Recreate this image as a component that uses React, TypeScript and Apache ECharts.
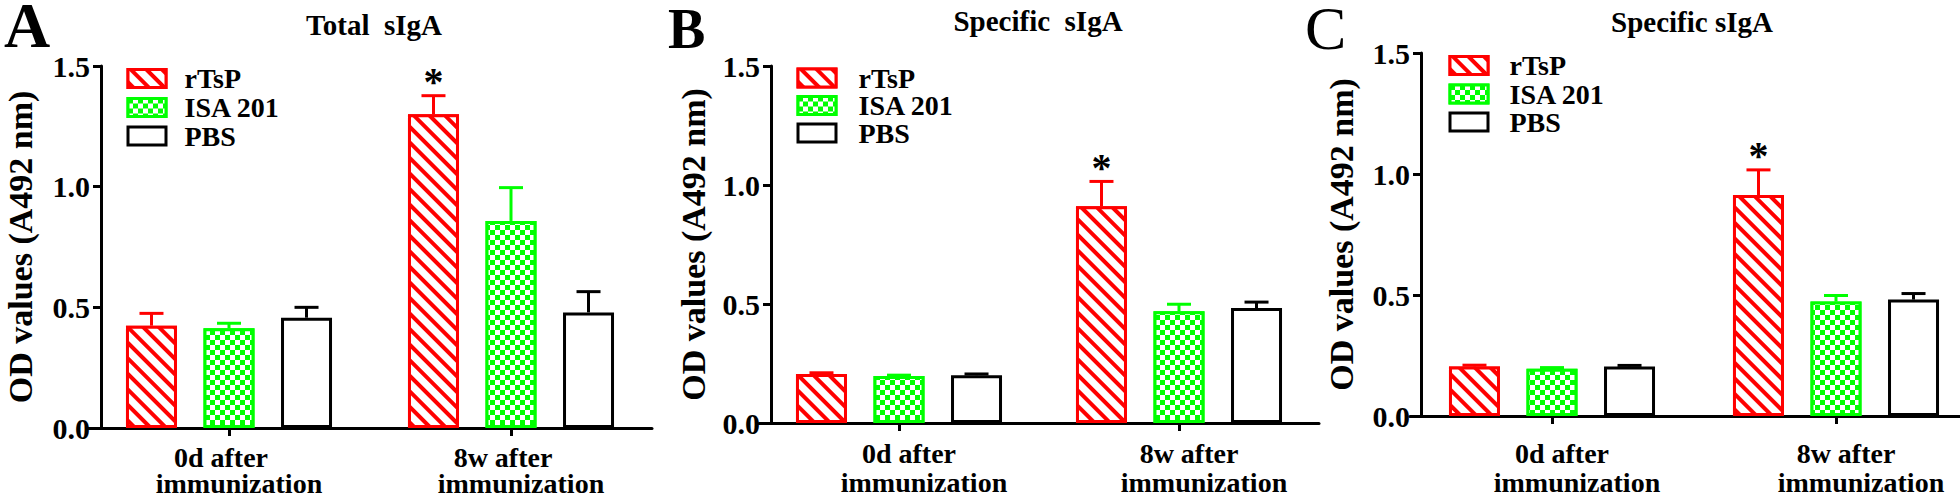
import React, { useEffect, useRef } from "react";
import * as echarts from "echarts";

// ---------- data ----------
const categories = ["0d after\nimmunization", "8w after\nimmunization"];
const groups = ["rTsP", "ISA 201", "PBS"];
const panelLetters = ["A", "B", "C"];
const panelTitles = ["Total  sIgA", "Specific  sIgA", "Specific sIgA"];
const yTicks = [0, 0.5, 1.0, 1.5];
const yAxisName = "OD values (A492 nm)";

// Panel A: total sIgA (mean, SD)
const totalRTsP = [0.424, 1.3];
const totalRTsPErr = [0.051, 0.077];
const totalISA = [0.413, 0.858];
const totalISAErr = [0.021, 0.138];
const totalPBS = [0.457, 0.479];
const totalPBSErr = [0.043, 0.086];

// Panel B: specific sIgA
const specBRTsP = [0.206, 0.911];
const specBRTsPErr = [0.005, 0.104];
const specBISA = [0.197, 0.47];
const specBISAErr = [0.004, 0.029];
const specBPBS = [0.201, 0.483];
const specBPBSErr = [0.005, 0.025];

// Panel C: specific sIgA
const specCRTsP = [0.205, 0.913];
const specCRTsPErr = [0.005, 0.104];
const specCISA = [0.195, 0.473];
const specCISAErr = [0.005, 0.025];
const specCPBS = [0.205, 0.481];
const specCPBSErr = [0.004, 0.025];

// significance star (only rTsP at 8w)
const rTsPStars = [false, true];

// ---------- styles / layout ----------
const FONT = "Liberation Serif";
const strokeColors = ["#ff0000", "#00ff00", "#000000"];
const fillColors = ["#ff0000", "#00ff00", "#ffffff"];
const BAR_W = 51;
const BAR_GAP = "52%";

const stripeDecal = {
  symbol: "rect",
  symbolSize: 1,
  symbolKeepAspect: false,
  color: "#ffffff",
  dashArrayX: [1, 0],
  dashArrayY: [7, 4],
  rotation: Math.PI / 4,
};
const checkerDecal = {
  symbol: "rect",
  symbolSize: 1,
  symbolKeepAspect: false,
  color: "#ffffff",
  dashArrayX: [
    [5, 5],
    [0, 5, 5, 0],
  ],
  dashArrayY: [5, 0],
  rotation: 0,
};
const decals: any[] = [stripeDecal, checkerDecal, null];

const panelData = [
  { vals: [totalRTsP, totalISA, totalPBS], errs: [totalRTsPErr, totalISAErr, totalPBSErr] },
  { vals: [specBRTsP, specBISA, specBPBS], errs: [specBRTsPErr, specBISAErr, specBPBSErr] },
  { vals: [specCRTsP, specCISA, specCPBS], errs: [specCRTsPErr, specCISAErr, specCPBSErr] },
];

const panels = [
  {
    left: 88, width: 564, top: 66, height: 362, yOffset: -13, nameGap: 63.5,
    labelMargin: 16, lineH: 26, dx1: -8, dx2: 10,
    legendLeft: 126.5, legendRows: [73.5, 102.5, 131], legendTextPad: 13.5,
    titleX: 374, titleY: 25, letterX: 4, letterY: 25, letterSize: 64, letterLH: 44, letterWeight: "bold",
  },
  {
    left: 759, width: 560, top: 66, height: 357, yOffset: -12, nameGap: 60.5,
    labelMargin: 15.5, lineH: 29, dx1: 10, dx2: 25,
    legendLeft: 796.5, legendRows: [73, 100.5, 128], legendTextPad: 17.5,
    titleX: 1038, titleY: 21, letterX: 668, letterY: 29, letterSize: 56, letterLH: 40, letterWeight: "bold",
  },
  {
    left: 1410, width: 568, top: 53, height: 363, yOffset: -11, nameGap: 62.5,
    labelMargin: 22.5, lineH: 29, dx1: 10, dx2: 25,
    legendLeft: 1448.5, legendRows: [60.5, 89, 117], legendTextPad: 16.5,
    titleX: 1692, titleY: 22, letterX: 1305, letterY: 28, letterSize: 62, letterLH: 44, letterWeight: "normal",
  },
];

const padFor = (dx: number) => (dx >= 0 ? [0, 0, 0, 2 * dx] : [0, -2 * dx, 0, 0]);

function buildOption() {
  const series: any[] = [];
  panelData.forEach((pd, p) => {
    groups.forEach((g, gi) => {
      const s: any = {
        type: "bar",
        name: g,
        xAxisIndex: p,
        yAxisIndex: p,
        data: pd.vals[gi],
        barWidth: BAR_W,
        barGap: BAR_GAP,
        silent: true,
        itemStyle: {
          color: fillColors[gi],
          borderColor: strokeColors[gi],
          borderWidth: 3,
        },
      };
      if (decals[gi]) s.itemStyle.decal = decals[gi];
      series.push(s);
    });
    const errData: any[] = [];
    groups.forEach((g, gi) => {
      categories.forEach((c, ci) => {
        const star = gi === 0 && rTsPStars[ci] ? 1 : 0;
        errData.push([ci, pd.vals[gi][ci], pd.errs[gi][ci], gi, star]);
      });
    });
    series.push({
      type: "custom",
      name: "err" + p,
      xAxisIndex: p,
      yAxisIndex: p,
      silent: true,
      z: 5,
      encode: { x: 0, y: 1 },
      data: errData,
      renderItem: (params: any, api: any) => {
        const ci = api.value(0);
        const v = api.value(1);
        const e = api.value(2);
        const gi = api.value(3);
        const star = api.value(4);
        const lay = api.barLayout({ count: 3, barWidth: BAR_W, barGap: BAR_GAP });
        const base = api.coord([ci, v]);
        const top = api.coord([ci, v + e]);
        const x = base[0] + lay[gi].offsetCenter;
        const col = strokeColors[gi];
        const children: any[] = [
          { type: "line", shape: { x1: x, y1: base[1], x2: x, y2: top[1] }, style: { stroke: col, lineWidth: 3 } },
          { type: "line", shape: { x1: x - 12, y1: top[1], x2: x + 12, y2: top[1] }, style: { stroke: col, lineWidth: 3 } },
        ];
        if (star) {
          children.push({
            type: "text",
            x,
            y: top[1] - 14,
            style: {
              text: "*",
              fontSize: 40,
              fontWeight: "bold",
              fontFamily: FONT,
              fill: "#000",
              align: "center",
              verticalAlign: "middle",
            },
          });
        }
        return { type: "group", children };
      },
    });
  });

  const graphic: any[] = [];
  panels.forEach((p, i) => {
    graphic.push({
      type: "text",
      x: p.titleX,
      y: p.titleY,
      style: {
        text: panelTitles[i],
        fontSize: 29,
        fontWeight: "bold",
        fontFamily: FONT,
        fill: "#000",
        align: "center",
        verticalAlign: "middle",
        lineHeight: 30,
      },
    });
    graphic.push({
      type: "text",
      x: p.letterX,
      y: p.letterY,
      style: {
        text: panelLetters[i],
        fontSize: p.letterSize,
        fontWeight: p.letterWeight,
        fontFamily: FONT,
        fill: "#000",
        align: "left",
        verticalAlign: "middle",
        lineHeight: p.letterLH,
      },
    });
  });

  // one legend component per row so every row sits exactly where it should
  const legends: any[] = [];
  panels.forEach((p) => {
    groups.forEach((g, gi) => {
      legends.push({
        orient: "vertical",
        left: p.legendLeft,
        top: p.legendRows[gi] - 9,
        padding: 0,
        itemWidth: 38,
        itemHeight: 18,
        icon: "rect",
        selectedMode: false,
        data: [g],
        itemStyle: { borderWidth: 3 },
        formatter: (name: string) => `{t|${name}}`,
        textStyle: {
          fontFamily: FONT,
          fontWeight: "bold",
          fontSize: 28,
          color: "#000",
          lineHeight: 18,
          rich: {
            t: {
              fontFamily: FONT,
              fontWeight: "bold",
              fontSize: 28,
              color: "#000",
              lineHeight: 18,
              padding: [0, 0, 0, p.legendTextPad],
            },
          },
        },
      });
    });
  });

  return {
    animation: false,
    backgroundColor: "#ffffff",
    textStyle: { fontFamily: FONT },
    grid: panels.map((p) => ({
      left: p.left,
      top: p.top,
      width: p.width,
      height: p.height,
      containLabel: false,
      outerBoundsMode: "none",
    })),
    xAxis: panels.map((p, i) => ({
      type: "category",
      gridIndex: i,
      data: categories,
      axisLine: { show: true, lineStyle: { color: "#000", width: 3 } },
      axisTick: { show: true, alignWithLabel: true, length: 8, lineStyle: { color: "#000", width: 3 } },
      axisLabel: {
        interval: 0,
        margin: p.labelMargin,
        color: "#000",
        fontFamily: FONT,
        formatter: (v: string) => {
          const [l1, l2] = v.split("\n");
          return `{a|${l1}}\n{b|${l2}}`;
        },
        rich: {
          a: { fontFamily: FONT, fontWeight: "bold", fontSize: 28, color: "#000", lineHeight: p.lineH, padding: padFor(p.dx1) },
          b: { fontFamily: FONT, fontWeight: "bold", fontSize: 28, color: "#000", lineHeight: p.lineH, padding: padFor(p.dx2) },
        },
      },
      splitLine: { show: false },
    })),
    yAxis: panels.map((p, i) => ({
      type: "value",
      gridIndex: i,
      min: yTicks[0],
      max: yTicks[yTicks.length - 1],
      interval: yTicks[1] - yTicks[0],
      offset: p.yOffset,
      name: yAxisName,
      nameLocation: "middle",
      nameGap: p.nameGap,
      nameTextStyle: { fontFamily: FONT, fontWeight: "bold", fontSize: 34, color: "#000" },
      axisLine: { show: true, lineStyle: { color: "#000", width: 3 } },
      axisTick: { show: true, length: 8, lineStyle: { color: "#000", width: 3 } },
      axisLabel: {
        margin: 11,
        fontFamily: FONT,
        fontWeight: "bold",
        fontSize: 30,
        color: "#000",
        formatter: (v: number) => v.toFixed(1),
      },
      splitLine: { show: false },
    })),
    legend: legends,
    graphic,
    series,
  };
}

export default function App() {
  const ref = useRef<HTMLDivElement>(null);
  useEffect(() => {
    if (!ref.current) return;
    const chart = echarts.init(ref.current, undefined, { renderer: "svg" });
    chart.setOption(buildOption() as any);
    return () => chart.dispose();
  }, []);
  return (
    <div
      ref={ref}
      style={{ position: "absolute", left: 0, top: 0, width: 1960, height: 497, background: "#fff" }}
    />
  );
}
